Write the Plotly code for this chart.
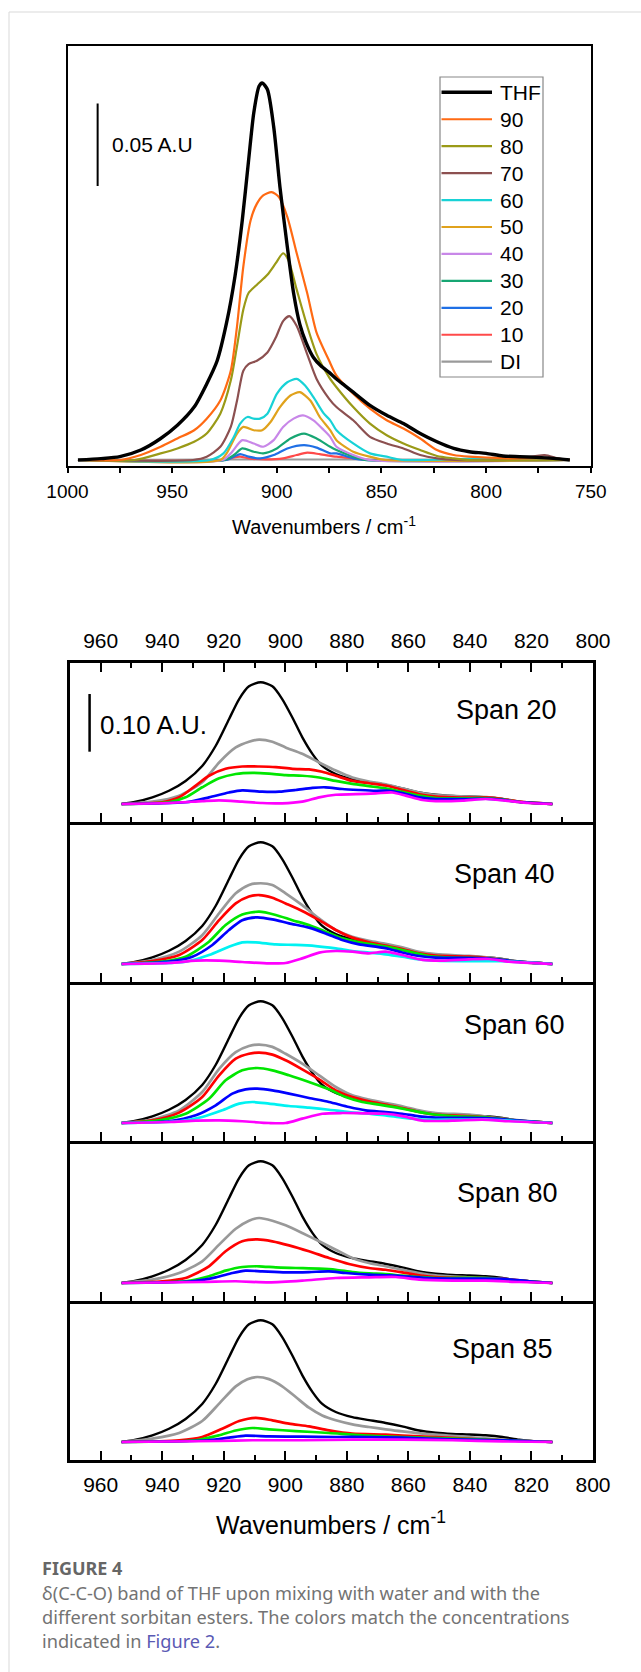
import plotly.graph_objects as go

W, H = 641, 1672

# ---------------- Top panel: THF / water mixtures ----------------
TOP_NAMES = ["THF", "90", "80", "70", "60", "50", "40", "30", "20", "10", "DI"]
TOP_COLORS = ["#000000", "#ff6a13", "#9a9a17", "#8c5050", "#18d2d6", "#e0a21c",
              "#c887e8", "#17a673", "#1f6fe5", "#ff4a4a", "#9a9a9a"]

THF_X = [995, 984, 975, 965, 955.5, 947.5, 939.5, 933.5, 928.5, 924, 920, 916.5, 913.5, 911, 908.5,
         907, 904.5, 901.5, 898.5, 895, 892, 889, 886, 882.5, 879, 875, 871.5, 867.5, 863.5, 855.5, 847.5, 839.5,
         831.5, 823.5, 815.5, 808, 800, 792, 784, 776, 768, 760]
THF_Y = [0, 0.0008, 0.002, 0.006, 0.013, 0.021, 0.032, 0.046, 0.060, 0.083, 0.111, 0.145, 0.181, 0.210, 0.226,
         0.228, 0.224, 0.2015, 0.165, 0.129, 0.101, 0.082, 0.071, 0.062, 0.057, 0.053, 0.049, 0.045, 0.041, 0.033,
         0.027, 0.022, 0.016, 0.011, 0.007, 0.005, 0.004, 0.0024, 0.002, 0.0016, 0.001, 0]

W90_X = [995, 975, 965, 955.5, 947.5, 939.5, 933.5, 927, 922, 919, 916, 912.5, 909.5, 906.5, 902.5, 899,
         895, 890.5, 885.5, 881, 875, 871.5, 863.5, 855.5, 847.5, 839.5, 831.5, 823.5, 815.5, 808, 790, 770, 760]
W90_Y = [0, 0, 0.003, 0.008, 0.013, 0.018, 0.025, 0.036, 0.054, 0.081, 0.117, 0.145, 0.155, 0.160, 0.162, 0.159,
         0.147, 0.125, 0.101, 0.077, 0.060, 0.051, 0.040, 0.031, 0.024, 0.019, 0.013, 0.006, 0.003, 0.002, 0.001,
         0.001, 0]

W80_X = [995, 968, 955.5, 947.5, 939.5, 933.5, 927, 922, 919, 916, 913.5, 909.5, 904.5, 900.5, 897, 894.5,
         890.5, 885.5, 881, 875, 871.5, 863.5, 855.5, 847.5, 839.5, 831.5, 823.5, 815.5, 808, 760]
W80_Y = [0, 0, 0.004, 0.007, 0.011, 0.016, 0.028, 0.048, 0.069, 0.091, 0.101, 0.106, 0.112, 0.119, 0.125, 0.121,
         0.103, 0.081, 0.064, 0.050, 0.044, 0.032, 0.022, 0.015, 0.010, 0.006, 0.0024, 0.001, 0, 0]

W70_X = [995, 940, 933.5, 927, 922, 919, 916, 913.5, 909.5, 904.5, 900.5, 897, 894, 890.5, 885.5, 881, 875,
         871.5, 863.5, 855.5, 847.5, 839.5, 831.5, 823.5, 815, 790, 772, 766, 760]
W70_Y = [0, 0, 0.002, 0.008, 0.020, 0.036, 0.054, 0.058, 0.060, 0.065, 0.074, 0.084, 0.087, 0.081, 0.064, 0.049,
         0.037, 0.032, 0.024, 0.014, 0.010, 0.007, 0.003, 0.001, 0, 0, 0.003, 0.001, 0]

W60_X = [995, 932, 925.5, 920.5, 917.5, 914, 911, 908, 904.5, 900, 895, 890.5, 886.5, 882.5, 877.5, 874.5,
         871.5, 863.5, 855.5, 847.5, 840, 800, 760]
W60_Y = [0, 0, 0.004, 0.014, 0.022, 0.026, 0.025, 0.025, 0.028, 0.040, 0.047, 0.049, 0.045, 0.038, 0.028, 0.024,
         0.018, 0.010, 0.004, 0.002, 0, 0.001, 0]

W50_X = [995, 927, 924, 919, 916, 911, 907, 903, 898.5, 893.5, 889, 884, 879.5, 874.5, 871.5, 863.5, 855.5, 848, 760]
W50_Y = [0, 0, 0.004, 0.016, 0.020, 0.018, 0.018, 0.023, 0.032, 0.039, 0.041, 0.036, 0.026, 0.018, 0.012, 0.005,
         0.002, 0, 0]

W40_X = [995, 926, 922, 916.5, 911, 906.5, 901.5, 897, 892, 887.5, 882.5, 877.5, 874.5, 871.5, 863.5, 856, 760]
W40_Y = [0, 0, 0.004, 0.012, 0.010, 0.008, 0.012, 0.020, 0.025, 0.027, 0.024, 0.018, 0.014, 0.008, 0.003, 0, 0]

W30_X = [995, 925, 920.5, 916.5, 911, 906.5, 900, 893.5, 887, 881, 874.5, 871.5, 863.5, 858, 760]
W30_Y = [0, 0, 0.003, 0.007, 0.005, 0.004, 0.007, 0.013, 0.016, 0.013, 0.008, 0.006, 0.002, 0, 0]

W20_X = [995, 924, 920.5, 917.5, 913.5, 908, 901.5, 895, 887, 881, 874.5, 871.5, 863.5, 858, 760]
W20_Y = [0, 0, 0.002, 0.0036, 0.002, 0.001, 0.003, 0.007, 0.009, 0.0075, 0.004, 0.004, 0.001, 0, 0]

W10_X = [995, 925, 920.5, 917.5, 913.5, 905, 897, 890.5, 885.5, 879.5, 871.5, 863.5, 855, 760]
W10_Y = [0, 0, 0.0016, 0.002, 0.001, 0.0004, 0.001, 0.003, 0.0044, 0.0035, 0.002, 0.001, 0, 0]

DI_X = [995, 930, 880, 840, 760]
DI_Y = [0, 0.0003, 0.0003, 0.0003, 0]

TOP_SERIES_X = [THF_X, W90_X, W80_X, W70_X, W60_X, W50_X, W40_X, W30_X, W20_X, W10_X, DI_X]
TOP_SERIES_Y = [THF_Y, W90_Y, W80_Y, W70_Y, W60_Y, W50_Y, W40_Y, W30_Y, W20_Y, W10_Y, DI_Y]

TOP_SCALE_LABEL = "0.05 A.U"
TOP_SCALE = 0.05

# ---------------- Lower panels: sorbitan esters ----------------
PANEL_NAMES = ["Span 20", "Span 40", "Span 60", "Span 80", "Span 85"]
LOWER_KEYS = ["THF", "DI", "red", "green", "blue", "cyan", "magenta"]
LOWER_COLORS = {"THF": "#000000", "DI": "#999999", "red": "#ff0000", "green": "#00e600",
                "blue": "#0000ff", "cyan": "#00f2f2", "magenta": "#ff00ff"}

L_THF_X = [953.2, 948.6, 943.2, 937.8, 932.4, 927.0, 922.6, 918.3, 915.0, 911.8, 908.0, 904.2, 901.0, 897.7,
           894.5, 891.2, 888.0, 883.6, 878.2, 872.8, 867.4, 862.0, 856.5, 851.1, 845.7, 840.3, 834.9, 829.4,
           824.0, 818.6, 813.2]
L_THF_Y = [0, .004, .0116, .023, .040, .066, .101, .147, .182, .204, .211, .204, .182, .150, .116, .087, .066,
           .052, .043, .038, .033, .027, .020, .016, .014, .013, .0116, .0087, .004, .001, 0]

# Span 20
S20_DI_X = [953.2, 943.2, 934.5, 927.0, 921.5, 916.1, 911.8, 908.5, 904.2, 899.9, 894.5, 889.0, 883.6, 878.2,
            872.8, 867.4, 862.0, 856.5, 851.1, 845.7, 840.3, 833.8, 829.4, 824.0, 813.2]
S20_DI_Y = [0, .004, .0145, .0376, .072, .098, .108, .1116, .108, .098, .087, .072, .058, .046, .039, .034, .027,
            .020, .0156, .014, .013, .0116, .0087, .004, 0]
S20_RED_X = [953.2, 940.0, 934.5, 929.1, 924.8, 919.4, 914.0, 908.5, 903.1, 897.7, 892.3, 888.0, 883.6, 878.2,
             872.8, 867.4, 863.0, 856.5, 851.1, 845.7, 840.3, 834.9, 829.4, 824.0, 813.2]
S20_RED_Y = [0, .003, .0116, .032, .049, .061, .065, .065, .064, .061, .060, .056, .049, .040, .036, .032, .026,
             .017, .013, .0116, .011, .0116, .0087, .004, 0]
S20_GREEN_X = [953.2, 937.8, 932.4, 927.0, 921.5, 916.1, 910.7, 905.3, 899.9, 894.5, 889.0, 883.6, 878.2, 872.8,
               867.4, 862.0, 856.5, 851.1, 840.3, 834.9, 829.4, 824.0, 813.2]
S20_GREEN_Y = [0, .003, .0116, .029, .0445, .052, .054, .0526, .050, .049, .046, .040, .035, .031, .027, .021,
               .0145, .0104, .0098, .0104, .0075, .0035, 0]
S20_BLUE_X = [953.2, 932.4, 924.8, 918.3, 914.0, 907.5, 902.0, 896.6, 891.2, 886.9, 881.5, 876.0, 870.6, 866.3,
              862.0, 856.5, 851.1, 840.3, 833.8, 829.4, 824.0, 813.2]
S20_BLUE_Y = [0, .003, .0116, .020, .0237, .0214, .0214, .0243, .028, .029, .026, .0243, .023, .023, .019, .0116,
              .0087, .0087, .009, .007, .0035, 0]
S20_MAG_X = [953.2, 937.8, 927.0, 921.5, 914.0, 907.5, 901.0, 894.5, 889.0, 883.6, 877.1, 870.6, 865.2, 860.9,
             855.4, 851.1, 842.4, 834.9, 828.4, 820.8, 813.2]
S20_MAG_Y = [0, .0017, .005, .0064, .004, .0017, .001, .004, .0116, .016, .017, .0185, .020, .0145, .007, .005,
             .0058, .0087, .0058, .0017, 0]

# Span 40
S40_DI_X = [953.2, 943.2, 934.5, 927.0, 921.5, 916.1, 911.8, 908.0, 904.2, 899.9, 894.5, 889.0, 883.6, 878.2,
            872.8, 867.4, 862.0, 856.5, 851.1, 840.3, 833.8, 824.0, 813.2]
S40_DI_Y = [0, .007, .0214, .050, .088, .1225, .137, .140, .137, .1225, .102, .079, .059, .047, .040, .035, .029,
            .021, .017, .014, .011, .0046, 0]
S40_RED_X = [953.2, 943.2, 934.5, 927.0, 921.5, 916.1, 911.8, 908.5, 904.2, 899.9, 894.5, 889.0, 883.6, 878.2,
             872.8, 867.4, 862.0, 856.5, 851.1, 840.3, 833.8, 824.0, 813.2]
S40_RED_Y = [0, .005, .0156, .0416, .076, .105, .117, .1196, .115, .105, .092, .076, .059, .0457, .0376, .0318,
             .026, .0185, .0145, .0127, .0098, .004, 0]
S40_GREEN_X = [953.2, 940.0, 932.4, 924.8, 919.4, 914.0, 908.5, 903.1, 897.7, 892.3, 886.9, 881.5, 876.0, 870.6,
               865.2, 859.8, 853.3, 845.7, 834.9, 824.0, 813.2]
S40_GREEN_Y = [0, .004, .0127, .0387, .0676, .086, .0907, .085, .076, .0676, .056, .0445, .0376, .033, .028,
               .0214, .0139, .011, .0098, .004, 0]
S40_BLUE_X = [953.2, 937.8, 930.2, 923.7, 918.3, 914.0, 909.1, 904.2, 898.8, 892.3, 886.9, 881.5, 876.0, 870.6,
              866.3, 862.0, 856.5, 851.1, 834.9, 824.0, 813.2]
S40_BLUE_Y = [0, .004, .0127, .033, .059, .076, .081, .0775, .0705, .063, .053, .0416, .034, .030, .026, .020,
              .0139, .011, .0098, .004, 0]
S40_CYAN_X = [953.2, 932.4, 924.8, 918.3, 914.0, 909.6, 903.1, 896.6, 890.1, 883.6, 878.2, 872.8, 867.4, 862.0,
              856.5, 851.1, 840.3, 829.4, 813.2]
S40_CYAN_Y = [0, .004, .0156, .030, .0376, .0376, .034, .033, .031, .027, .0225, .0197, .0168, .0127, .008,
              .0058, .005, .005, 0]
S40_MAG_X = [953.2, 937.8, 929.1, 921.5, 914.0, 905.3, 899.9, 894.5, 889.0, 883.6, 878.2, 872.8, 867.4, 862.0,
             855.4, 848.9, 840.3, 833.8, 827.3, 813.2]
S40_MAG_Y = [0, .0017, .0058, .0058, .0035, .001, .0017, .0098, .0197, .0225, .0214, .0185, .0214, .0156, .007,
             .0058, .008, .0087, .004, 0]

# Span 60
S60_DI_X = [953.2, 943.2, 934.5, 927.0, 921.5, 916.1, 911.8, 908.5, 904.2, 899.9, 894.5, 889.0, 883.6, 878.2,
            872.8, 867.4, 862.0, 856.5, 851.1, 840.3, 833.8, 824.0, 813.2]
S60_DI_Y = [0, .006, .022, .0537, .094, .123, .1335, .136, .132, .120, .103, .0827, .0624, .048, .0405, .0347,
            .029, .022, .0173, .0145, .0104, .0046, 0]
S60_RED_X = [953.2, 943.2, 934.5, 927.0, 921.5, 916.1, 911.8, 908.5, 904.2, 899.9, 894.5, 889.0, 883.6, 878.2,
             872.8, 867.4, 862.0, 856.5, 851.1, 840.3, 833.8, 824.0, 813.2]
S60_RED_Y = [0, .0046, .018, .045, .0827, .1116, .120, .122, .1185, .1087, .093, .0757, .0566, .045, .0376, .0318,
             .026, .019, .0145, .012, .0092, .004, 0]
S60_GREEN_X = [953.2, 941.0, 932.4, 924.8, 919.4, 914.0, 909.1, 904.2, 898.8, 892.3, 885.8, 880.4, 875.0, 869.5,
               864.1, 858.7, 853.3, 845.7, 834.9, 824.0, 813.2]
S60_GREEN_Y = [0, .0046, .016, .042, .074, .0913, .0954, .0913, .0827, .071, .0584, .045, .0364, .0318, .027,
               .0214, .016, .012, .0098, .004, 0]
S60_BLUE_X = [953.2, 937.8, 929.1, 922.6, 917.2, 912.9, 909.1, 904.2, 898.8, 892.3, 885.8, 879.3, 873.9, 867.4,
              862.0, 856.5, 851.1, 834.9, 824.0, 813.2]
S60_BLUE_Y = [0, .003, .0133, .0306, .051, .0584, .0595, .0566, .051, .0434, .0364, .0277, .022, .019, .016,
              .0116, .0092, .0087, .004, 0]
S60_CYAN_X = [953.2, 934.5, 927.0, 920.5, 915.0, 910.7, 905.3, 898.8, 892.3, 885.8, 879.3, 872.8, 867.4, 862.0,
              855.4, 845.7, 834.9, 824.0, 813.2]
S60_CYAN_Y = [0, .003, .0104, .022, .0335, .0364, .0335, .0295, .0266, .023, .019, .016, .0133, .0092, .0058,
              .0058, .0064, .003, 0]
S60_MAG_X = [953.2, 937.8, 929.1, 921.5, 914.0, 905.3, 899.9, 894.5, 888.0, 881.5, 875.0, 867.4, 862.0, 855.4,
             845.7, 836.0, 827.3, 813.2]
S60_MAG_Y = [0, .0017, .004, .0046, .003, 0, 0, .0075, .016, .0173, .0168, .016, .012, .004, .004, .0058, .003, 0]

# Span 80
S80_DI_X = [953.2, 943.2, 934.5, 927.0, 921.5, 916.1, 911.8, 908.5, 904.2, 899.9, 894.5, 889.0, 883.6, 878.2,
            872.8, 867.4, 862.0, 856.5, 851.1, 840.3, 829.4, 820.8, 813.2]
S80_DI_Y = [0, .0058, .0173, .0376, .0665, .094, .108, .1127, .108, .100, .0867, .0723, .0578, .0434, .0347, .029,
            .023, .0173, .0133, .0098, .007, .003, 0]
S80_RED_X = [953.2, 940.0, 932.4, 924.8, 919.4, 914.0, 909.1, 904.2, 898.8, 892.3, 885.8, 879.3, 872.8, 867.4,
             862.0, 856.5, 851.1, 840.3, 829.4, 820.8, 813.2]
S80_RED_Y = [0, .003, .0087, .029, .055, .0723, .0757, .0723, .0653, .055, .0434, .033, .026, .023, .0185, .0133,
             .0104, .0087, .007, .003, 0]
S80_GREEN_X = [953.2, 932.4, 924.8, 919.4, 914.0, 908.5, 903.1, 896.6, 889.0, 883.6, 878.2, 872.8, 867.4, 862.0,
               856.5, 851.1, 834.9, 824.0, 813.2]
S80_GREEN_Y = [0, .003, .0116, .0214, .0277, .029, .027, .026, .0249, .023, .019, .0168, .0156, .0127, .0104,
               .0087, .0087, .004, 0]
S80_BLUE_X = [953.2, 930.2, 922.6, 917.2, 912.9, 907.5, 899.9, 892.3, 885.8, 880.4, 872.8, 866.3, 859.8, 853.3,
              840.3, 829.4, 820.8, 813.2]
S80_BLUE_Y = [0, .003, .0098, .0173, .0214, .0202, .0185, .019, .0202, .0173, .0145, .0133, .011, .0087, .0075,
              .007, .003, 0]
S80_MAG_X = [953.2, 927.0, 916.1, 905.3, 894.5, 883.6, 872.8, 864.1, 856.5, 845.7, 834.9, 824.0, 813.2]
S80_MAG_Y = [0, .0017, .003, .001, .004, .0087, .0098, .0104, .0058, .004, .004, .0017, 0]

# Span 85
S85_DI_X = [953.2, 943.2, 934.5, 927.0, 921.5, 916.1, 912.3, 909.1, 905.3, 901.0, 896.6, 892.3, 888.0, 883.6,
            878.2, 872.8, 867.4, 862.0, 851.1, 840.3, 829.4, 813.2]
S85_DI_Y = [0, .0058, .0156, .0364, .0665, .0965, .109, .1127, .109, .0965, .078, .0595, .046, .0376, .0306, .026,
            .022, .0185, .0127, .0087, .004, 0]
S85_RED_X = [953.2, 934.5, 927.0, 920.5, 915.0, 909.6, 904.2, 898.8, 892.3, 885.8, 878.2, 867.4, 856.5, 845.7,
             834.9, 813.2]
S85_RED_Y = [0, .003, .0087, .023, .0364, .042, .0376, .0318, .027, .0202, .0145, .0127, .0098, .007, .004, 0]
S85_GREEN_X = [953.2, 929.1, 921.5, 916.1, 910.7, 905.3, 896.6, 885.8, 875.0, 862.0, 845.7, 829.4, 813.2]
S85_GREEN_Y = [0, .003, .0116, .020, .0243, .022, .019, .0156, .0116, .0087, .0058, .003, 0]
S85_BLUE_X = [953.2, 924.8, 918.3, 912.9, 905.3, 894.5, 883.6, 872.8, 862.0, 845.7, 829.4, 813.2]
S85_BLUE_Y = [0, .003, .0075, .011, .0098, .0092, .0087, .0087, .0075, .0046, .003, 0]
S85_MAG_X = [953.2, 921.5, 910.7, 894.5, 878.2, 862.0, 845.7, 829.4, 813.2]
S85_MAG_Y = [0, .0017, .003, .003, .004, .004, .003, .001, 0]

PANEL_SERIES = [
    {"THF": (L_THF_X, L_THF_Y), "DI": (S20_DI_X, S20_DI_Y), "red": (S20_RED_X, S20_RED_Y),
     "green": (S20_GREEN_X, S20_GREEN_Y), "blue": (S20_BLUE_X, S20_BLUE_Y), "magenta": (S20_MAG_X, S20_MAG_Y)},
    {"THF": (L_THF_X, L_THF_Y), "DI": (S40_DI_X, S40_DI_Y), "red": (S40_RED_X, S40_RED_Y),
     "green": (S40_GREEN_X, S40_GREEN_Y), "blue": (S40_BLUE_X, S40_BLUE_Y), "cyan": (S40_CYAN_X, S40_CYAN_Y),
     "magenta": (S40_MAG_X, S40_MAG_Y)},
    {"THF": (L_THF_X, L_THF_Y), "DI": (S60_DI_X, S60_DI_Y), "red": (S60_RED_X, S60_RED_Y),
     "green": (S60_GREEN_X, S60_GREEN_Y), "blue": (S60_BLUE_X, S60_BLUE_Y), "cyan": (S60_CYAN_X, S60_CYAN_Y),
     "magenta": (S60_MAG_X, S60_MAG_Y)},
    {"THF": (L_THF_X, L_THF_Y), "DI": (S80_DI_X, S80_DI_Y), "red": (S80_RED_X, S80_RED_Y),
     "green": (S80_GREEN_X, S80_GREEN_Y), "blue": (S80_BLUE_X, S80_BLUE_Y), "magenta": (S80_MAG_X, S80_MAG_Y)},
    {"THF": (L_THF_X, L_THF_Y), "DI": (S85_DI_X, S85_DI_Y), "red": (S85_RED_X, S85_RED_Y),
     "green": (S85_GREEN_X, S85_GREEN_Y), "blue": (S85_BLUE_X, S85_BLUE_Y), "magenta": (S85_MAG_X, S85_MAG_Y)},
]
LOWER_SCALE_LABEL = "0.10 A.U."
LOWER_SCALE = 0.10

CAPTION_TITLE = "FIGURE 4"
CAPTION_LINES = [
    "δ(C-C-O) band of THF upon mixing with water and with the",
    "different sorbitan esters. The colors match the concentrations",
    "indicated in <span style='color:#5a5ab4'>Figure 2</span>.",
]
X_TITLE = "Wavenumbers / cm<sup>-1</sup>"

# ---------------- helpers ----------------
def px(x):
    return x / W


def py(y):
    return 1 - y / H


FONT = "Arial, 'Liberation Sans', sans-serif"
fig = go.Figure()
shapes = []
annotations = []

# ---------- top panel ----------
TOP_L, TOP_R, TOP_T, TOP_B = 67.5, 590.8, 45.7, 465.7
for i in reversed(range(len(TOP_NAMES))):
    fig.add_trace(go.Scatter(
        x=TOP_SERIES_X[i], y=TOP_SERIES_Y[i], mode="lines", name=TOP_NAMES[i],
        line=dict(color=TOP_COLORS[i], width=3.4 if i == 0 else 2.2, shape="spline", smoothing=0.7),
        xaxis="x", yaxis="y", showlegend=False, hoverinfo="skip"))

fig.update_layout(
    xaxis=dict(domain=[px(TOP_L), px(TOP_R)], range=[1000, 750], tick0=750, dtick=50,
               ticks="outside", ticklen=5, tickwidth=1.5, tickcolor="black",
               minor=dict(dtick=25, ticks="outside", ticklen=5, tickwidth=1.5, tickcolor="black"),
               showline=True, linewidth=2, linecolor="black", mirror=True,
               showgrid=False, zeroline=False, anchor="y", automargin=False,
               tickfont=dict(family=FONT, size=19, color="black"), ticklabelstandoff=2),
    yaxis=dict(domain=[py(TOP_B), py(TOP_T)], range=[-0.00345, 0.2505], automargin=False,
               showticklabels=False, ticks="", showline=True, linewidth=2, linecolor="black",
               mirror=True, showgrid=False, zeroline=False, anchor="x"),
)

# top scale bar (data coordinates)
shapes.append(dict(type="line", xref="x", yref="y", x0=985.6, x1=985.6, y0=0.1656, y1=0.1656 + TOP_SCALE,
                   line=dict(color="black", width=2)))
annotations.append(dict(xref="x", yref="y", x=979.7, y=0.1906, text=TOP_SCALE_LABEL, showarrow=False,
                        xanchor="left", yanchor="middle", font=dict(family=FONT, size=21, color="black")))

# top legend (drawn box)
LEG_L, LEG_R, LEG_T, LEG_B = 440, 543, 77, 377
shapes.append(dict(type="rect", xref="paper", yref="paper", x0=px(LEG_L), x1=px(LEG_R), y0=py(LEG_B), y1=py(LEG_T),
                   line=dict(color="#888888", width=1.2), fillcolor="white", layer="above"))
for i, name in enumerate(TOP_NAMES):
    yc = 92.3 + i * 26.94
    shapes.append(dict(type="line", xref="paper", yref="paper", x0=px(441.5), x1=px(492), y0=py(yc), y1=py(yc),
                       line=dict(color=TOP_COLORS[i], width=3.4 if i == 0 else 2.2), layer="above"))
    annotations.append(dict(xref="paper", yref="paper", x=px(498), y=py(yc), text=name, showarrow=False,
                            xanchor="left", yanchor="middle", font=dict(family=FONT, size=21, color="black")))

annotations.append(dict(xref="paper", yref="paper", x=px(324), y=py(525), text=X_TITLE, showarrow=False,
                        xanchor="center", yanchor="middle", font=dict(family=FONT, size=20, color="black")))

# ---------- lower panels ----------
LOW_L, LOW_R = 69.9, 593.0
PANEL_EDGES = [663, 822, 982, 1141, 1301, 1460]
NP = len(PANEL_NAMES)
for p, pname in enumerate(PANEL_NAMES):
    ax = p + 2
    xa, ya = f"x{ax}", f"y{ax}"
    for key in LOWER_KEYS:
        if key not in PANEL_SERIES[p]:
            continue
        xs, ys = PANEL_SERIES[p][key]
        fig.add_trace(go.Scatter(
            x=xs, y=ys, mode="lines", name=f"{pname} {key}",
            line=dict(color=LOWER_COLORS[key], width=2.4 if key == "THF" else 2.7, shape="spline", smoothing=0.7),
            xaxis=xa, yaxis=ya, showlegend=False, hoverinfo="skip"))
    top, bot = PANEL_EDGES[p], PANEL_EDGES[p + 1]
    # scale so that baseline sits ~18 px above the panel bottom, same A.U./px in every panel
    au_per_px = 0.000578 * 3
    ymin = -(18.0) * au_per_px
    ymax = ymin + (bot - top) * au_per_px
    fig.layout[f"xaxis{ax}"] = dict(
        domain=[px(LOW_L), px(LOW_R)], range=[970, 800], tick0=800, dtick=20,
        ticks="inside", ticklen=9, tickwidth=1.8, tickcolor="black",
        minor=dict(dtick=10, ticks="inside", ticklen=5, tickwidth=1.8, tickcolor="black"),
        mirror="allticks" if p == 0 else False, showline=True, linewidth=2.5, linecolor="black",
        showgrid=False, zeroline=False, anchor=ya, side="top" if p == 0 else "bottom", automargin=False,
        showticklabels=(p == 0 or p == NP - 1), tickfont=dict(family=FONT, size=21, color="black"),
        ticklabelstandoff=4)
    fig.layout[f"yaxis{ax}"] = dict(
        domain=[py(bot), py(top)], range=[ymin, ymax], showticklabels=False, ticks="", automargin=False,
        showline=True, linewidth=2.5, linecolor="black", mirror=True, showgrid=False, zeroline=False, anchor=xa)

PANEL_LABEL_POS = [(506.7, 710.3), (504, 873.7), (514.7, 1025), (507, 1192.7), (502, 1349.3)]
for p, pname in enumerate(PANEL_NAMES):
    lx, ly = PANEL_LABEL_POS[p]
    annotations.append(dict(xref="paper", yref="paper", x=px(lx), y=py(ly), text=pname, showarrow=False,
                            xanchor="center", yanchor="middle", font=dict(family=FONT, size=27, color="black")))

# lower scale bar (panel 1 data coordinates)
shapes.append(dict(type="line", xref="x2", yref="y2", x0=963.6, x1=963.6, y0=0.0907, y1=0.0907 + LOWER_SCALE,
                   line=dict(color="black", width=2.5)))
annotations.append(dict(xref="x2", yref="y2", x=960.8, y=0.1376, text=LOWER_SCALE_LABEL, showarrow=False,
                        xanchor="left", yanchor="middle", font=dict(family=FONT, size=26, color="black")))

annotations.append(dict(xref="paper", yref="paper", x=px(331), y=py(1523), text=X_TITLE, showarrow=False,
                        xanchor="center", yanchor="middle", font=dict(family=FONT, size=25, color="black")))

# ---------- card border and caption ----------
shapes.append(dict(type="rect", xref="paper", yref="paper", x0=px(9), x1=1.2, y0=-0.2, y1=py(12),
                   line=dict(color="#d9d9d9", width=1), layer="below"))
CAP_FONT = "'Noto Sans', 'Open Sans', sans-serif"
annotations.append(dict(xref="paper", yref="paper", x=px(40), y=py(1568), text=f"<b>{CAPTION_TITLE}</b>",
                        showarrow=False, xanchor="left", yanchor="middle",
                        font=dict(family=CAP_FONT, size=18, color="#666666")))
for k, line in enumerate(CAPTION_LINES):
    annotations.append(dict(xref="paper", yref="paper", x=px(40), y=py(1593 + 24 * k), text=line,
                            showarrow=False, xanchor="left", yanchor="middle",
                            font=dict(family=CAP_FONT, size=18.2, color="#737373")))

fig.update_layout(width=W, height=H, margin=dict(l=0, r=0, t=0, b=0, autoexpand=False),
                  paper_bgcolor="white", plot_bgcolor="white", showlegend=False,
                  shapes=shapes, annotations=annotations)

fig.write_html("out.html", config={"displayModeBar": False})
